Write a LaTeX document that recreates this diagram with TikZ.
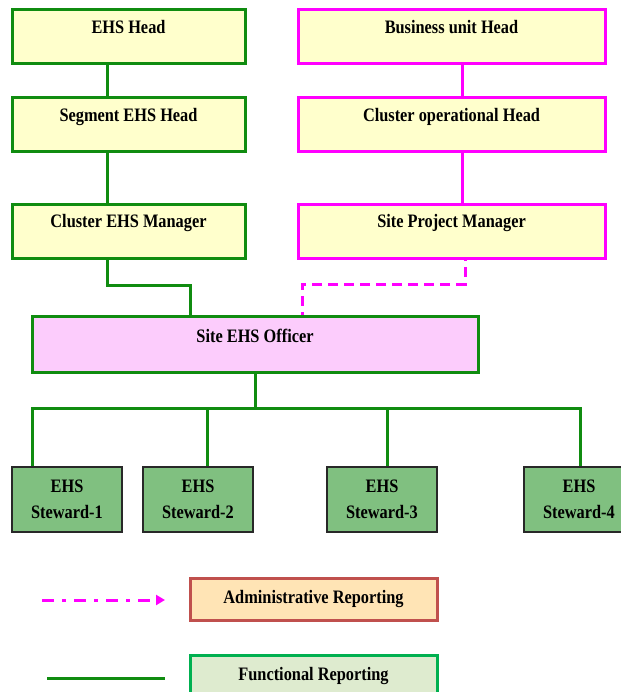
\documentclass[tikz,border=0pt]{standalone}
\usepackage{fontspec}
\setmainfont{Liberation Serif}[FakeStretch=0.86]
\usepackage{tikz}
\usetikzlibrary{arrows.meta}

\begin{document}
\begin{tikzpicture}[x=1pt,y=-1pt,
  lab/.style={font=\fontsize{19}{26}\selectfont\bfseries},
  topbox/.style={lab,draw,line width=3pt,fill=boxyellow,minimum width=233pt,
    inner xsep=0pt,inner ysep=3.5pt,text height=20pt,text depth=27pt},
  ehsbox/.style={topbox,draw=ehsgreen},
  bizbox/.style={topbox,draw=admmagenta},
  stewbox/.style={lab,draw=stewborder,line width=1.5pt,fill=stewgreen,
    minimum width=110pt,minimum height=65pt,inner sep=0pt,align=center},
  func/.style={draw=ehsgreen,line width=3pt},
  adm/.style={draw=admmagenta,line width=3pt}]
% Define colours
\definecolor{ehsgreen}{RGB}{16,140,16}
\definecolor{admmagenta}{RGB}{255,0,255}
\definecolor{boxyellow}{RGB}{255,255,204}
\definecolor{officerpink}{RGB}{252,204,252}
\definecolor{stewgreen}{RGB}{128,192,128}
\definecolor{stewborder}{RGB}{40,40,40}
\definecolor{admfill}{RGB}{255,228,181}
\definecolor{admborder}{RGB}{192,80,77}
\definecolor{funcfill}{RGB}{222,235,207}
\definecolor{funcborder}{RGB}{0,176,80}

\useasboundingbox (0,0) rectangle (620,692);

% Draw EHS chain
\node[ehsbox] (ehshead) at (128.5,37) {EHS Head};
\node[ehsbox] (seghead) at (128.5,125) {Segment EHS Head};
\node[ehsbox] (clustermgr) at (128.5,231.5) {Cluster EHS Manager};

% Draw business chain
\node[bizbox,minimum width=307pt] (buhead) at (451.5,37) {Business unit Head};
\node[bizbox,minimum width=307pt] (clusterop) at (451.5,125) {Cluster operational Head};
\node[bizbox,minimum width=307pt] (sitepm) at (451.5,231.5) {Site Project Manager};

% Draw officer and stewards
\node[lab,draw=ehsgreen,line width=3pt,fill=officerpink,minimum width=446pt,
  inner xsep=0pt,inner ysep=3.5pt,text height=22.5pt,text depth=26.5pt]
  (officer) at (255,344) {Site EHS Officer};
\node[stewbox] (stew1) at (67,499.5) {EHS\\Steward-1};
\node[stewbox] (stew2) at (198,499.5) {EHS\\Steward-2};
\node[stewbox] (stew3) at (382,499.5) {EHS\\Steward-3};
\node[stewbox] (stew4) at (579,499.5) {EHS\\Steward-4};

% Draw connections
\draw[func] ([xshift=-21.5pt]ehshead.south) -- ([xshift=-21.5pt]seghead.north);
\draw[func] ([xshift=-21.5pt]seghead.south) -- ([xshift=-21.5pt]clustermgr.north);
\draw[func] ([xshift=-21.5pt]clustermgr.south) -- ++(0,25) -| ([xshift=-65pt]officer.north);
\draw[adm] ([xshift=10.5pt]buhead.south) -- ([xshift=10.5pt]clusterop.north);
\draw[adm] ([xshift=10.5pt]clusterop.south) -- ([xshift=10.5pt]sitepm.north);
\draw[adm,dash pattern=on 10pt off 6pt,dash phase=-7pt]
  ([xshift=13.5pt]sitepm.south) -- ++(0,24) -| ([xshift=47pt]officer.north);
\draw[func] (officer.south) -- ++(0,35) coordinate (bus);
\draw[func] (bus) -| ([xshift=-35pt]stew1.north);
\draw[func] (bus) -| ([xshift=9pt]stew2.north);
\draw[func] (bus) -| ([xshift=5pt]stew3.north);
\draw[func] (bus) -| ([xshift=1pt]stew4.north);

% Add legend
\node[lab,draw=admborder,line width=3pt,fill=admfill,minimum width=247pt,
  minimum height=42pt] (admkey) at (313.5,599) {Administrative Reporting};
\node[lab,draw=funcborder,line width=3pt,fill=funcfill,minimum width=247pt,
  minimum height=42pt] (funckey) at (313.5,676) {Functional Reporting};
\coordinate (admstart) at (42,600);
\coordinate (admend) at (165,600);
\coordinate (funcstart) at (47,678);
\coordinate (funcend) at (165,678);
\draw[adm,dash pattern=on 12pt off 8pt on 4pt off 8pt,
  -{Triangle[length=9pt,width=10pt]}] (admstart) -- (admend);
\draw[func] (funcstart) -- (funcend);
\end{tikzpicture}
\end{document}
